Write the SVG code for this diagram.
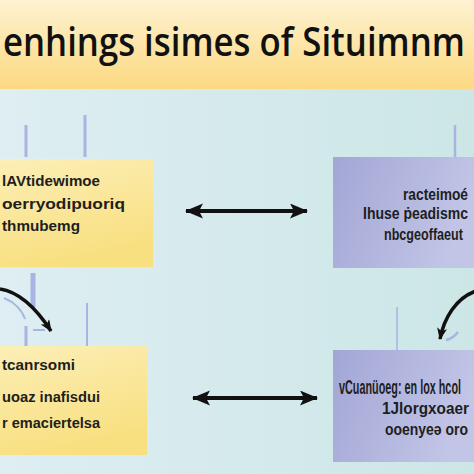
<svg xmlns="http://www.w3.org/2000/svg" width="474" height="474" viewBox="0 0 474 474">
<defs>
<linearGradient id="gTitle" x1="0" y1="0" x2="0" y2="1">
<stop offset="0" stop-color="#fdf2d2"/>
<stop offset="0.6" stop-color="#fde3a0"/>
<stop offset="1" stop-color="#fcd982"/>
</linearGradient>
<linearGradient id="gBg" x1="0" y1="0" x2="1" y2="0">
<stop offset="0" stop-color="#deeef3"/>
<stop offset="1" stop-color="#cce6e6"/>
</linearGradient>
<linearGradient id="gYel" x1="0" y1="0" x2="0.3" y2="1">
<stop offset="0" stop-color="#fcefb6"/>
<stop offset="1" stop-color="#f8df80"/>
</linearGradient>
<linearGradient id="gPur" x1="0" y1="0" x2="1" y2="0.3">
<stop offset="0" stop-color="#a2a6d5"/>
<stop offset="1" stop-color="#c2c5e6"/>
</linearGradient>
<marker id="ah" markerUnits="userSpaceOnUse" markerWidth="20" markerHeight="16" refX="17" refY="7.5" orient="auto-start-reverse">
<path d="M0,0 L18,7.5 L0,15 L4,7.5 Z" fill="#111"/>
</marker>
<marker id="ahs" markerUnits="userSpaceOnUse" markerWidth="14" markerHeight="12" refX="11" refY="5" orient="auto">
<path d="M0,0 L12,5 L0,10 L3,5 Z" fill="#111"/>
</marker>
<style>
.bt{font-family:"Liberation Sans","DejaVu Sans",sans-serif;font-weight:bold;font-size:14.5px;fill:#1e1e1e}
.deco{stroke:#a9b4e2;stroke-linecap:butt;fill:none}
.conn{stroke:#111;fill:none}
</style>
</defs>
<rect x="0" y="0" width="474" height="474" fill="url(#gBg)"/>
<rect x="0" y="0" width="474" height="89" fill="url(#gTitle)"/>
<text x="0" y="0" transform="translate(3,56) scale(1,1.14)" font-family="'Open Sans','Noto Sans',sans-serif" font-size="35" font-weight="600" fill="#111" textLength="462" lengthAdjust="spacingAndGlyphs">enhings isimes of Situimnm</text>

<g id="decor">
<line class="deco" x1="26" y1="125" x2="26" y2="157" stroke-width="3"/>
<line class="deco" x1="85" y1="115" x2="85" y2="157" stroke-width="3"/>
<line class="deco" x1="455" y1="125" x2="455" y2="157" stroke-width="2.5"/>
<line class="deco" x1="33" y1="273" x2="33" y2="307" stroke-width="5" stroke="#bccbee"/>
<line class="deco" x1="26" y1="326" x2="26" y2="347" stroke-width="3"/>
<line class="deco" x1="33" y1="330" x2="45" y2="330" stroke-width="2"/>
<line class="deco" x1="87" y1="303" x2="87" y2="347" stroke-width="2"/>
<line class="deco" x1="397" y1="307" x2="397" y2="350" stroke-width="1.5"/>
<path class="deco" d="M4,298 C14,302 22,310 25,319" stroke-width="2"/>
<path class="deco" d="M446,340 C451,339 455,336 458,332" stroke-width="2.5"/>
</g>

<g id="node-tl">
<rect x="0" y="159" width="153" height="108" fill="url(#gYel)"/>
<text class="bt" x="2" y="186" textLength="98" lengthAdjust="spacingAndGlyphs">lAVtidewimoe</text>
<text class="bt" x="2" y="209" textLength="123" lengthAdjust="spacingAndGlyphs">oerryodipuoriq</text>
<text class="bt" x="2" y="231" textLength="78" lengthAdjust="spacingAndGlyphs">thmubemg</text>
</g>

<g id="node-tr">
<rect x="333" y="157" width="141" height="111" fill="url(#gPur)"/>
<text class="bt" x="0" y="0" transform="translate(403,200) scale(1,1.1)" font-size="13.2" textLength="65" lengthAdjust="spacingAndGlyphs">racteimoé</text>
<text class="bt" x="0" y="0" transform="translate(363,219) scale(1,1.1)" font-size="13.2" textLength="105" lengthAdjust="spacingAndGlyphs">Ihuse ṗeadismc</text>
<text class="bt" x="0" y="0" transform="translate(384,240) scale(1,1.15)" font-size="12.4" textLength="79" lengthAdjust="spacingAndGlyphs">nbcgeoffaeut</text>
</g>

<g id="node-bl">
<rect x="0" y="346" width="147" height="109" fill="url(#gYel)"/>
<text class="bt" x="2" y="370" textLength="73" lengthAdjust="spacingAndGlyphs">tcanrsomi</text>
<text class="bt" x="2" y="402" textLength="98" lengthAdjust="spacingAndGlyphs">uoaz inafisdui</text>
<text class="bt" x="2" y="428" textLength="98" lengthAdjust="spacingAndGlyphs">r emaciertelsa</text>
</g>

<g id="node-br">
<rect x="333" y="350" width="141" height="112" fill="url(#gPur)"/>
<text class="bt" x="0" y="0" transform="translate(339,394) scale(1,1.36)" font-size="10.2" textLength="122" lengthAdjust="spacingAndGlyphs">vCuanüoeg: en lox hcol</text>
<text class="bt" x="0" y="0" transform="translate(382,414) scale(1,1.1)" font-size="13.5" textLength="87" lengthAdjust="spacingAndGlyphs">1Jlorgxoaer</text>
<text class="bt" x="0" y="0" transform="translate(385,435) scale(1,1.1)" font-size="13.5" textLength="83" lengthAdjust="spacingAndGlyphs">ooenyeə oro</text>
</g>

<g id="connectors">
<line class="conn" x1="186" y1="211" x2="307" y2="211" stroke-width="4" marker-start="url(#ah)" marker-end="url(#ah)"/>
<line class="conn" x1="193" y1="398" x2="317" y2="398" stroke-width="4" marker-start="url(#ah)" marker-end="url(#ah)"/>
<path class="conn" d="M0,289 C20,292 36,308 51,331" stroke-width="3.5" marker-end="url(#ahs)"/>
<path class="conn" d="M476,291 C456,298 444,318 440,339" stroke-width="3.5" marker-end="url(#ahs)"/>
</g>
</svg>
